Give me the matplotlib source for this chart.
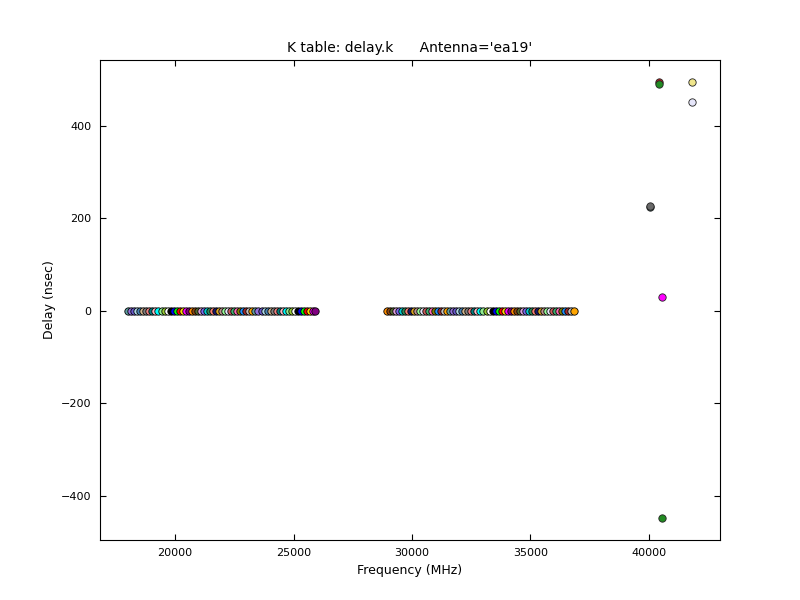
import matplotlib
matplotlib.use("Agg")
import matplotlib.pyplot as plt

# spw centre frequencies (MHz) and fitted delays (nsec)
freq_low = [18016, 18144, 18272, 18400, 18528, 18656, 18784, 18912, 19040, 19168,
            19296, 19424, 19552, 19680, 19808, 19936, 20064, 20192, 20320, 20448,
            20576, 20704, 20832, 20960, 21088, 21216, 21344, 21472, 21600, 21728,
            21856, 21984, 22112, 22240, 22368, 22496, 22624, 22752, 22880, 23008,
            23136, 23264, 23392, 23520, 23648, 23776, 23904, 24032, 24160, 24288,
            24416, 24544, 24672, 24800, 24928, 25056, 25184, 25312, 25440, 25568,
            25696, 25824, 25920]
delay_low = [-1.2, -0.8, -1.5, -0.9, -1.1, 0.4, -1.3, -0.6, -1.0, -1.4,
             -0.7, -1.2, -0.9, 0.3, -1.1, -0.8, -1.3, -1.0, -0.5, -1.2,
             -0.9, -1.4, -0.7, -1.1, -1.0, -0.6, -1.3, -0.8, -1.2, -0.9,
             -1.1, -0.4, -1.0, -1.3, -0.8, -1.2, -0.7, -1.1, -0.9, -1.4,
             -1.0, -0.6, -1.2, -0.8, -1.3, -1.1, -0.5, -0.9, -1.2, -1.0,
             -0.7, -1.3, -0.8, -1.1, -0.9, -1.2, -1.0, -0.6, -1.4, -0.8,
             -1.1, -0.9, -1.0]

freq_high = [28928, 29056, 29184, 29312, 29440, 29568, 29696, 29824, 29952, 30080,
             30208, 30336, 30464, 30592, 30720, 30848, 30976, 31104, 31232, 31360,
             31488, 31616, 31744, 31872, 32000, 32128, 32256, 32384, 32512, 32640,
             32768, 32896, 33024, 33152, 33280, 33408, 33536, 33664, 33792, 33920,
             34048, 34176, 34304, 34432, 34560, 34688, 34816, 34944, 35072, 35200,
             35328, 35456, 35584, 35712, 35840, 35968, 36096, 36224, 36352, 36480,
             36608, 36736, 36833]
delay_high = [-0.9, -1.2, -0.7, -1.1, -1.3, -0.8, -1.0, 0.2, -1.2, -0.9,
              -1.4, -0.6, -1.1, -1.0, -0.8, -1.3, -0.9, -1.2, -0.7, -1.0,
              -1.1, -0.8, -1.3, -0.9, -1.0, -1.2, -0.6, -1.1, -0.9, -1.4,
              -1.0, -0.8, -1.2, -0.7, -1.1, -0.9, -1.3, -1.0, -0.8, -1.2,
              -0.9, -1.1, -0.6, -1.3, -1.0, -0.8, -1.2, -0.9, -1.1, -1.0,
              -0.7, -1.3, -0.9, -1.2, -0.8, -1.0, -1.1, -0.9, -1.3, -0.7,
              -1.0, -1.2, -0.8]

# outlying solutions
freq_out = [40040, 40060, 40430, 40430, 40560, 40560, 41825, 41825]
delay_out = [224.0, 227.0, 494.0, 490.0, 30.0, -448.0, 494.5, 451.0]
color_out = ["#2f4f4f", "#696969", "#b22222", "#228b22", "#ff00ff", "#228b22", "#f0e68c", "#e6e6fa"]

palette = ["#5f9ea0", "#9370db", "#6a5acd", "#add8e6", "#4682b4", "#d2b48c", "#808080",
           "#f08080", "#008080", "#ffb6c1", "#00ffff", "#90ee90", "#9acd32", "#ffffff",
           "#000000", "#0000ff", "#00ff00", "#ff0000", "#ffd700", "#ff00ff", "#800080",
           "#ff8c00", "#8b4513", "#556b2f", "#dda0dd", "#7b68ee", "#00ced1", "#2e8b57",
           "#fa8072", "#191970", "#daa520", "#bc8f8f", "#98fb98", "#e6e6fa", "#cd5c5c",
           "#3cb371", "#ff69b4", "#808000", "#1e90ff", "#a52a2a", "#c0c0c0", "#ffa500"]

plt.rcParams["font.family"] = "DejaVu Sans"
fig = plt.figure(figsize=(8, 6), dpi=100)
ax = fig.add_axes([0.125, 0.1, 0.775, 0.8])

freqs = freq_low + freq_high
delays = delay_low + delay_high
for i in range(len(freqs)):
    ax.plot(freqs[i], delays[i], "o", markersize=5.3, markerfacecolor=palette[i % len(palette)],
            markeredgecolor="black", markeredgewidth=0.6)
for i in range(len(freq_out)):
    ax.plot(freq_out[i], delay_out[i], "o", markersize=5.3, markerfacecolor=color_out[i],
            markeredgecolor="#222222", markeredgewidth=0.6)

ax.set_xticks([20000, 25000, 30000, 35000, 40000])
ax.set_yticks([-400, -200, 0, 200, 400])
ax.tick_params(direction="in", top=True, right=True, length=4, labelsize=8, pad=6)
ax.set_xlabel("Frequency (MHz)", fontsize=9)
ax.set_ylabel("Delay (nsec)", fontsize=9)
ax.set_title("K table: delay.k      Antenna='ea19'", fontsize=10)

plt.savefig("out.png", dpi=100)
plt.close()
